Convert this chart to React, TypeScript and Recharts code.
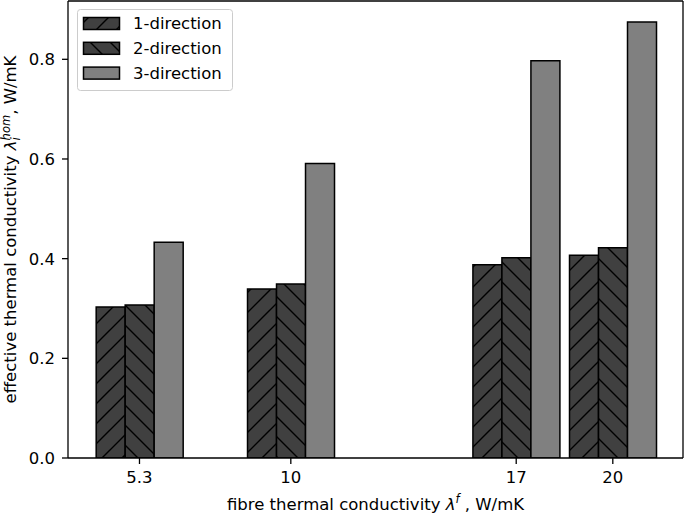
import { BarChart, Bar, XAxis, YAxis, Legend, ReferenceLine } from 'recharts'

const fibreK = [5.3, 10, 17, 20]
const dir1 = [0.303, 0.339, 0.388, 0.407]
const dir2 = [0.307, 0.349, 0.402, 0.422]
const dir3 = [0.433, 0.591, 0.797, 0.875]
const seriesNames = ['1-direction', '2-direction', '3-direction']
const xTicks = [5.3, 10, 17, 20]
const yTicks = [0, 0.2, 0.4, 0.6, 0.8]

const X_DOMAIN: [number, number] = [3.08, 22.18]
const Y_DOMAIN: [number, number] = [0, 0.917]

const FONT = 'DejaVu Sans'
const FS = 16.5
const DARK = '#404040'
const LIGHT = '#808080'
const fills = ['url(#hatchFwd)', 'url(#hatchBack)', LIGHT]

const data = fibreK.map((x, i) => ({ x, d1: dir1[i], d2: dir2[i], d3: dir3[i] }))

function LegendBox() {
  return (
    <svg width={157} height={83} style={{ display: 'block', overflow: 'visible' }}>
      <rect x={0.5} y={0.5} width={155} height={81} rx={3} fill="#fff" fillOpacity={0.8} stroke="#cccccc" strokeWidth={1} />
      {seriesNames.map((name, i) => (
        <g key={name}>
          <rect x={6.5} y={8.5 + 24.8 * i} width={36} height={12} fill={fills[i]} stroke="#000" strokeWidth={1.5} />
          <text x={56} y={14.5 + 24.8 * i} dominantBaseline="central" fontFamily={FONT} fontSize={FS} fill="#000">
            {name}
          </text>
        </g>
      ))}
    </svg>
  )
}

function YLabel(props: any) {
  const vb = props.viewBox || { y: 1, height: 457 }
  const cy = vb.y + vb.height / 2
  const cx = 16
  return (
    <text
      x={cx}
      y={cy}
      transform={`rotate(-90 ${cx} ${cy})`}
      textAnchor="middle"
      fontFamily={FONT}
      fontSize={FS}
      fill="#000"
    >
      effective thermal conductivity{' '}
      <tspan fontStyle="italic">λ</tspan>
      <tspan fontStyle="italic" fontSize={11.5} dy={3.5}>i</tspan>
      <tspan fontStyle="italic" fontSize={11.5} dx={-3} dy={-10}>hom</tspan>
      <tspan dy={6.5}>, W/mK</tspan>
    </text>
  )
}

function XLabel(props: any) {
  const vb = props.viewBox || { x: 68, width: 615 }
  const cx = vb.x + vb.width / 2
  return (
    <text x={cx} y={509.5} textAnchor="middle" fontFamily={FONT} fontSize={FS} fill="#000">
      fibre thermal conductivity{' '}
      <tspan fontStyle="italic">λ</tspan>
      <tspan fontStyle="italic" fontSize={11.5} dy={-7}>f</tspan>
      <tspan dy={7}> , W/mK</tspan>
    </text>
  )
}

export default function App() {
  const tick = { fontFamily: FONT, fontSize: FS, fill: '#000' }
  return (
    <div style={{ position: 'absolute', left: 0, top: 0, background: '#fff' }}>
      <BarChart
        width={685}
        height={514}
        data={data}
        margin={{ top: 1, right: 2, left: 0, bottom: 0 }}
        barGap={0}
        barSize={29}
      >
        <defs>
          <pattern id="hatchFwd" patternUnits="userSpaceOnUse" width={20} height={20}>
            <rect width={20} height={20} fill={DARK} />
            <path d="M-5,5 L5,-5 M0,20 L20,0 M15,25 L25,15" stroke="#000" strokeWidth={1.4} />
          </pattern>
          <pattern id="hatchBack" patternUnits="userSpaceOnUse" width={20} height={20}>
            <rect width={20} height={20} fill={DARK} />
            <path d="M-5,15 L5,25 M0,0 L20,20 M15,-5 L25,5" stroke="#000" strokeWidth={1.4} />
          </pattern>
        </defs>
        <XAxis
          dataKey="x"
          type="number"
          domain={X_DOMAIN}
          ticks={xTicks}
          allowDataOverflow
          height={56}
          tick={tick}
          tickSize={6}
          tickMargin={7}
          axisLine={{ stroke: '#000', strokeWidth: 1.3 }}
          tickLine={{ stroke: '#000', strokeWidth: 1.3 }}
          label={<XLabel />}
        />
        <YAxis
          type="number"
          domain={Y_DOMAIN}
          ticks={yTicks}
          allowDataOverflow
          width={68}
          tick={tick}
          tickSize={6}
          tickMargin={7}
          tickFormatter={(v: number) => v.toFixed(1)}
          axisLine={{ stroke: '#000', strokeWidth: 1.3 }}
          tickLine={{ stroke: '#000', strokeWidth: 1.3 }}
          label={<YLabel />}
        />
        <ReferenceLine y={Y_DOMAIN[1]} stroke="#000" strokeWidth={1.3} />
        <ReferenceLine x={X_DOMAIN[1]} stroke="#000" strokeWidth={1.3} />
        <Legend
          layout="vertical"
          align="center"
          verticalAlign="middle"
          wrapperStyle={{ left: 77, top: 9, width: 157, height: 83 }}
          content={() => <LegendBox />}
        />
        <Bar dataKey="d1" name={seriesNames[0]} fill={fills[0]} stroke="#000" strokeWidth={1.5} isAnimationActive={false} />
        <Bar dataKey="d2" name={seriesNames[1]} fill={fills[1]} stroke="#000" strokeWidth={1.5} isAnimationActive={false} />
        <Bar dataKey="d3" name={seriesNames[2]} fill={fills[2]} stroke="#000" strokeWidth={1.5} isAnimationActive={false} />
      </BarChart>
    </div>
  )
}
